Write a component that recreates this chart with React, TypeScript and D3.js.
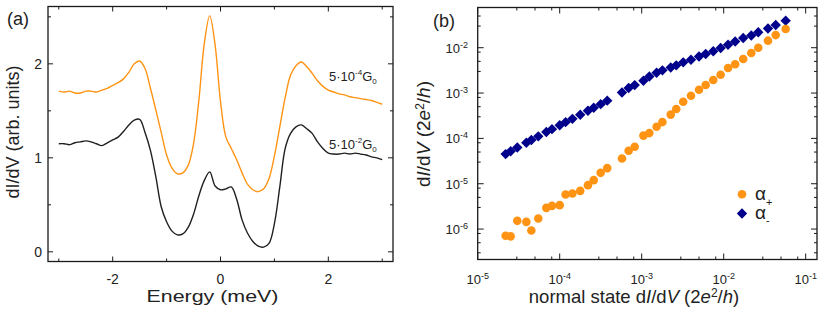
import React from 'react';
import * as d3 from 'd3';

// ---- panel (a): dI/dV spectra ----
const energy = [
  -3.0, -2.9, -2.8, -2.7, -2.6, -2.5, -2.4, -2.3, -2.2, -2.1, -2.0, -1.9, -1.8, -1.7, -1.6, -1.5,
  -1.4, -1.3, -1.2, -1.1, -1.0, -0.9, -0.8, -0.7, -0.6, -0.5, -0.4, -0.3, -0.2, -0.1, 0.0,
  0.1, 0.2, 0.3, 0.4, 0.5, 0.6, 0.7, 0.8, 0.9, 1.0, 1.1, 1.2, 1.3, 1.4, 1.5,
  1.6, 1.7, 1.8, 1.9, 2.0, 2.1, 2.2, 2.3, 2.4, 2.5, 2.6, 2.7, 2.8, 2.9, 3.0,
];
// 5·10^-4 G0 (orange)
const spectrumLowG = [
  1.71, 1.70, 1.71, 1.69, 1.69, 1.71, 1.71, 1.70, 1.72, 1.74, 1.77, 1.80, 1.84, 1.91, 2.00, 2.03,
  1.95, 1.74, 1.51, 1.27, 1.03, 0.89, 0.83, 0.84, 0.92, 1.15, 1.62, 2.22, 2.51, 2.20, 1.60,
  1.22, 1.10, 0.98, 0.84, 0.72, 0.66, 0.64, 0.67, 0.78, 1.02, 1.33, 1.64, 1.88, 1.98, 2.02,
  1.97, 1.90, 1.82, 1.76, 1.72, 1.70, 1.68, 1.67, 1.65, 1.64, 1.63, 1.62, 1.61, 1.59, 1.57,
];
// 5·10^-2 G0 (black)
const spectrumHighG = [
  1.15, 1.15, 1.14, 1.16, 1.17, 1.18, 1.17, 1.15, 1.13, 1.16, 1.19, 1.22, 1.28, 1.35, 1.40, 1.41,
  1.27, 1.08, 0.80, 0.48, 0.32, 0.22, 0.18, 0.19, 0.26, 0.40, 0.60, 0.76, 0.85, 0.70, 0.66,
  0.67, 0.69, 0.56, 0.34, 0.20, 0.11, 0.06, 0.05, 0.09, 0.30, 0.69, 1.10, 1.26, 1.33, 1.35,
  1.31, 1.26, 1.17, 1.10, 1.05, 1.04, 1.04, 1.05, 1.04, 1.05, 1.04, 1.03, 1.01, 1.00, 0.98,
];
const energyTicks = [-2, 0, 2];
const energyMinor = [-3, -1, 1, 3];
const gTicks = [0, 1, 2];
const gMinor = [0.5, 1.5, 2.5];

// ---- panel (b): alpha vs normal state conductance ----
const normalG = [
  2.19e-5, 2.52e-5, 3.04e-5, 3.92e-5, 4.51e-5, 5.48e-5, 6.87e-5, 8.05e-5, 1.0e-4, 1.18e-4,
  1.43e-4, 1.78e-4, 2.21e-4, 2.6e-4, 3.16e-4, 3.8e-4, 5.75e-4, 6.93e-4, 8.22e-4, 1.05e-3,
  1.24e-3, 1.52e-3, 1.79e-3, 2.26e-3, 2.64e-3, 3.21e-3, 3.99e-3, 5.0e-3, 6.03e-3, 7.46e-3,
  9.18e-3, 1.13e-2, 1.38e-2, 1.73e-2, 2.17e-2, 2.64e-2, 3.47e-2, 4.31e-2, 5.7e-2,
];
const alphaPlus = [
  7.1e-7, 6.9e-7, 1.52e-6, 1.44e-6, 9.3e-7, 1.71e-6, 2.94e-6, 3.25e-6, 3.37e-6, 5.8e-6,
  6.1e-6, 6.97e-6, 9.3e-6, 1.2e-5, 1.74e-5, 2.21e-5, 3.61e-5, 5.32e-5, 6.53e-5, 1.15e-4,
  1.31e-4, 1.8e-4, 2.29e-4, 3.35e-4, 4.44e-4, 6.43e-4, 8.71e-4, 1.18e-3, 1.5e-3, 1.94e-3,
  2.54e-3, 3.56e-3, 4.31e-3, 5.63e-3, 7.64e-3, 1.0e-2, 1.43e-2, 1.9e-2, 2.59e-2,
];
const alphaMinus = [
  4.5e-5, 5.2e-5, 6.3e-5, 8.0e-5, 9.2e-5, 1.11e-4, 1.38e-4, 1.6e-4, 1.95e-4, 2.28e-4,
  2.7e-4, 3.33e-4, 4.08e-4, 4.73e-4, 5.7e-4, 6.8e-4, 1.03e-3, 1.29e-3, 1.5e-3, 1.87e-3,
  2.31e-3, 2.81e-3, 3.17e-3, 3.66e-3, 4.08e-3, 4.76e-3, 5.43e-3, 6.4e-3, 7.26e-3, 8.34e-3,
  9.85e-3, 1.16e-2, 1.37e-2, 1.64e-2, 1.86e-2, 2.19e-2, 2.65e-2, 3.17e-2, 3.95e-2,
];
const xDecades = [-5, -4, -3, -2, -1];
const yDecades = [-6, -5, -4, -3, -2];
const minorMantissa = [3, 5, 8];

const FONT = '"Liberation Sans", Arial, sans-serif';
const ORANGE = '#ff9414';
const NAVY = '#00008c';
const AXIS = '#1a1a1a';

function PanelA() {
  const x = d3.scaleLinear().domain([-3.2, 3.2]).range([48, 393]);
  const y = d3.scaleLinear().domain([-0.103, 2.61]).range([261.5, 6.5]);
  const line = d3.line<number>()
    .x((_, i) => x(energy[i]))
    .y((d) => y(d))
    .curve(d3.curveCatmullRom.alpha(0.5));
  const [x0, x1] = x.range();
  const [y0, y1] = y.range();

  return (
    <g>
      <path d={line(spectrumLowG) || ''} fill="none" stroke={ORANGE} strokeWidth={1.4} />
      <path d={line(spectrumHighG) || ''} fill="none" stroke="#202020" strokeWidth={1.4} />
      <rect x={x0} y={y1} width={x1 - x0} height={y0 - y1} fill="none" stroke={AXIS} strokeWidth={1.3} />
      {energyTicks.map((t) => (
        <g key={'ex' + t}>
          <line x1={x(t)} x2={x(t)} y1={y0} y2={y0 - 5} stroke={AXIS} />
          <line x1={x(t)} x2={x(t)} y1={y1} y2={y1 + 5} stroke={AXIS} />
          <text x={x(t)} y={283.5} textAnchor="middle" fontSize={14} fontFamily={FONT} fill="#222">
            {t < 0 ? '-' + Math.abs(t) : t}
          </text>
        </g>
      ))}
      {energyMinor.map((t) => (
        <g key={'em' + t}>
          <line x1={x(t)} x2={x(t)} y1={y0} y2={y0 - 3} stroke={AXIS} />
          <line x1={x(t)} x2={x(t)} y1={y1} y2={y1 + 3} stroke={AXIS} />
        </g>
      ))}
      {gTicks.map((t) => (
        <g key={'gy' + t}>
          <line x1={x0} x2={x0 + 5} y1={y(t)} y2={y(t)} stroke={AXIS} />
          <line x1={x1} x2={x1 - 5} y1={y(t)} y2={y(t)} stroke={AXIS} />
          <text x={42} y={y(t) + 5} textAnchor="end" fontSize={14} fontFamily={FONT} fill="#222">{t}</text>
        </g>
      ))}
      {gMinor.map((t) => (
        <g key={'gm' + t}>
          <line x1={x0} x2={x0 + 3} y1={y(t)} y2={y(t)} stroke={AXIS} />
          <line x1={x1} x2={x1 - 3} y1={y(t)} y2={y(t)} stroke={AXIS} />
        </g>
      ))}
      <text x={212.5} y={302} textAnchor="middle" fontSize={17} fontFamily={FONT} fill="#222"
        textLength={132} lengthAdjust="spacingAndGlyphs">Energy (meV)</text>
      <text transform="translate(19,132) rotate(-90)" textAnchor="middle" fontSize={18} fontFamily={FONT} fill="#222">
        dI/dV (arb. units)
      </text>
      <text x={7} y={25} fontSize={18} fontFamily={FONT} fill="#222">(a)</text>
      <text x={329} y={80.5} fontSize={13} fontFamily={FONT} fill="#222">
        5·10<tspan dy={-6} fontSize={8}>-4</tspan><tspan dy={6}>G</tspan><tspan dy={3} fontSize={8}>0</tspan>
      </text>
      <text x={329} y={149} fontSize={13} fontFamily={FONT} fill="#222">
        5·10<tspan dy={-6} fontSize={8}>-2</tspan><tspan dy={6}>G</tspan><tspan dy={3} fontSize={8}>0</tspan>
      </text>
    </g>
  );
}

function PanelB() {
  const x = d3.scaleLog().domain([1e-5, Math.pow(10, -0.862)]).range([477.7, 817]);
  const y = d3.scaleLog().domain([Math.pow(10, -6.671), Math.pow(10, -1.113)]).range([259.5, 7.5]);
  const [x0, x1] = x.range();
  const [y0, y1] = y.range();
  const xMinor = xDecades.flatMap((d) => minorMantissa.map((m) => m * Math.pow(10, d - 1)))
    .filter((v) => v > x.domain()[0] && v < x.domain()[1]);
  const yMinor = [...yDecades, -1].flatMap((d) => minorMantissa.map((m) => m * Math.pow(10, d - 1)))
    .filter((v) => v > y.domain()[0] && v < y.domain()[1]);
  const diamond = d3.symbol(d3.symbolSquare, 54)() || '';

  return (
    <g>
      {normalG.map((g, i) => (
        <path key={'m' + i} d={diamond} transform={`translate(${x(g)},${y(alphaMinus[i])}) rotate(45)`} fill={NAVY} />
      ))}
      {normalG.map((g, i) => (
        <circle key={'p' + i} cx={x(g)} cy={y(alphaPlus[i])} r={4.3} fill={ORANGE} />
      ))}
      <rect x={x0} y={y1} width={x1 - x0} height={y0 - y1} fill="none" stroke={AXIS} strokeWidth={1.3} />
      {xDecades.map((d) => {
        const px = x(Math.pow(10, d));
        return (
          <g key={'xd' + d}>
            <line x1={px} x2={px} y1={y0} y2={y0 - 6} stroke={AXIS} />
            <line x1={px} x2={px} y1={y1} y2={y1 + 6} stroke={AXIS} />
            <text x={px} y={283.5} textAnchor="middle" fontSize={13} fontFamily={FONT} fill="#222">
              10<tspan dy={-5} fontSize={9}>{d}</tspan>
            </text>
          </g>
        );
      })}
      {xMinor.map((v, i) => (
        <g key={'xm' + i}>
          <line x1={x(v)} x2={x(v)} y1={y0} y2={y0 - 3} stroke={AXIS} />
          <line x1={x(v)} x2={x(v)} y1={y1} y2={y1 + 3} stroke={AXIS} />
        </g>
      ))}
      {yDecades.map((d) => {
        const py = y(Math.pow(10, d));
        return (
          <g key={'yd' + d}>
            <line x1={x0} x2={x0 + 6} y1={py} y2={py} stroke={AXIS} />
            <line x1={x1} x2={x1 - 6} y1={py} y2={py} stroke={AXIS} />
            <text x={468} y={py + 5} textAnchor="end" fontSize={13} fontFamily={FONT} fill="#222">
              10<tspan dy={-5} fontSize={9}>{d}</tspan>
            </text>
          </g>
        );
      })}
      {yMinor.map((v, i) => (
        <g key={'ym' + i}>
          <line x1={x0} x2={x0 + 3} y1={y(v)} y2={y(v)} stroke={AXIS} />
          <line x1={x1} x2={x1 - 3} y1={y(v)} y2={y(v)} stroke={AXIS} />
        </g>
      ))}
      <circle cx={742} cy={194.3} r={4.3} fill={ORANGE} />
      <path d={diamond} transform="translate(742,213.5) rotate(45)" fill={NAVY} />
      <text x={755} y={199.5} fontSize={19} fontFamily={FONT} fill="#222">
        α<tspan dy={6} fontSize={11}>+</tspan>
      </text>
      <text x={755} y={218.5} fontSize={19} fontFamily={FONT} fill="#222">
        α<tspan dy={5} fontSize={11}>-</tspan>
      </text>
      <text x={634} y={302.5} textAnchor="middle" fontSize={18.5} fontFamily={FONT} fill="#222">
        normal state d<tspan fontStyle="italic">I</tspan>/d<tspan fontStyle="italic">V</tspan> (2
        <tspan fontStyle="italic">e</tspan><tspan dy={-6} fontSize={12}>2</tspan>
        <tspan dy={6}>/</tspan><tspan fontStyle="italic">h</tspan>)
      </text>
      <text transform="translate(430,134) rotate(-90)" textAnchor="middle" fontSize={19} fontFamily={FONT} fill="#222">
        d<tspan fontStyle="italic">I</tspan>/d<tspan fontStyle="italic">V</tspan> (2<tspan fontStyle="italic">e</tspan>
        <tspan dy={-6} fontSize={12}>2</tspan><tspan dy={6}>/</tspan><tspan fontStyle="italic">h</tspan>)
      </text>
      <text x={433} y={27} fontSize={18} fontFamily={FONT} fill="#222">(b)</text>
    </g>
  );
}

export default function App() {
  return (
    <svg
      width={822}
      height={316}
      viewBox="0 0 822 316"
      style={{ position: 'absolute', left: 0, top: 0, background: '#fff' }}
    >
      <PanelA />
      <PanelB />
    </svg>
  );
}
